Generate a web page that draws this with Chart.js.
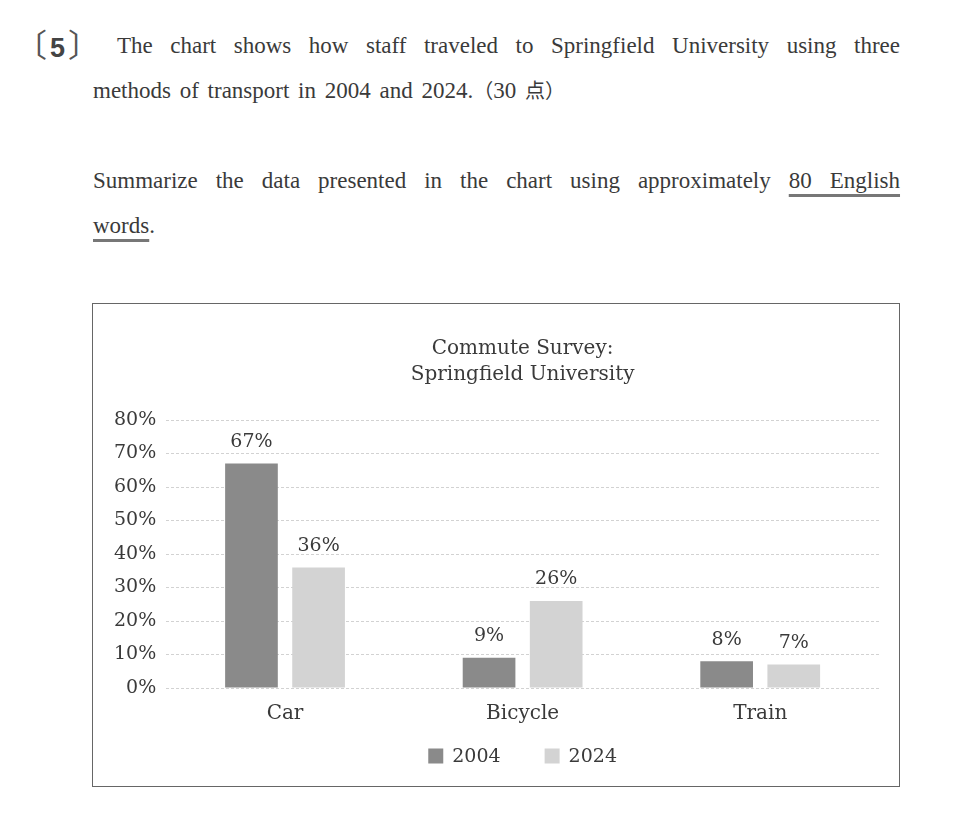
<!DOCTYPE html>
<html>
<head>
<meta charset="utf-8">
<script src="https://cdn.jsdelivr.net/npm/chart.js@4.4.0/dist/chart.umd.min.js"></script>
<style>
body { margin: 0; background: #fff; width: 964px; height: 838px; position: relative; color: #3a3a3a; }
.num { position: absolute; left: 15px; top: 23px; font-family: "Noto Sans CJK JP", sans-serif; font-size: 32px; line-height: 40px; color: #555; }
.num b { font-family: "Liberation Sans", sans-serif; font-size: 27px; color: #444; padding: 0 3px; }
.line { position: absolute; font-family: "Liberation Serif", serif; font-size: 23px; line-height: 44px; white-space: nowrap; word-spacing: 3px; }
.full { text-align: justify; text-align-last: justify; white-space: normal; }
.l1 { left: 117px; width: 783px; top: 24px; }
.l2 { left: 93px; top: 68px; }
.l3 { left: 93px; width: 807px; top: 159px; }
.l4 { left: 93px; top: 204px; }
.cjk { font-family: "Noto Sans CJK JP", sans-serif; font-size: 20px; }
.ul { text-decoration: underline; text-decoration-color: #777; text-decoration-thickness: 3px; text-underline-offset: 6px; }
.box { position: absolute; left: 92px; top: 303px; width: 806px; height: 482px; border: 1px solid #666; }
canvas { display: block; }
</style>
</head>
<body>
<div class="num">〔<b>5</b>〕</div>
<div class="line full l1">The chart shows how staff traveled to Springfield University using three</div>
<div class="line l2">methods of transport in 2004 and 2024.<span class="cjk">（</span>30 <span class="cjk">点）</span></div>
<div class="line full l3">Summarize the data presented in the chart using approximately <span class="ul">80 English</span></div>
<div class="line l4"><span class="ul">words</span>.</div>
<div class="box"><canvas id="commute-chart" width="806" height="482"></canvas></div>
<script>

// data

const categories = ['Car', 'Bicycle', 'Train'];
const seriesYears = ['2004', '2024'];
const values2004 = [67, 9, 8];
const values2024 = [36, 26, 7];
const chartTitle = ['Commute Survey:', 'Springfield University'];

// value labels above bars

const valueLabels = {
    id: 'valueLabels',
    afterDatasetsDraw(chart) {
        const ctx = chart.ctx;
        ctx.save();
        ctx.font = '19px "DejaVu Serif", serif';
        ctx.fillStyle = '#3a3a3a';
        ctx.textAlign = 'center';
        ctx.textBaseline = 'bottom';
        chart.data.datasets.forEach((ds, i) => {
            chart.getDatasetMeta(i).data.forEach((bar, j) => {
                ctx.fillText(ds.data[j] + '%', bar.x, bar.y - 12);
            });
        });
        ctx.restore();
    }
};

// legend under the category labels, centred on the plot area

const bottomLegend = {
    id: 'bottomLegend',
    afterDraw(chart) {
        const ctx = chart.ctx;
        const area = chart.chartArea;
        const box = 15, gap = 9, spacing = 44;
        ctx.save();
        ctx.font = '19px "DejaVu Serif", serif';
        ctx.textBaseline = 'middle';
        const items = chart.data.datasets.map(ds => ({
            label: ds.label,
            color: ds.backgroundColor,
            w: box + gap + ctx.measureText(ds.label).width
        }));
        let total = items.reduce((s, it) => s + it.w, 0) + spacing * (items.length - 1);
        let x = (area.left + area.right) / 2 - total / 2;
        const y = area.bottom + 68;
        items.forEach(it => {
            ctx.fillStyle = it.color;
            ctx.fillRect(x, y - box / 2, box, box);
            ctx.fillStyle = '#3a3a3a';
            ctx.fillText(it.label, x + box + gap, y + 1);
            x += it.w + spacing;
        });
        ctx.restore();
    }
};

Chart.defaults.font.family = '"DejaVu Serif", serif';
Chart.defaults.color = '#3a3a3a';

const commuteCanvas = document.getElementById('commute-chart');

let commuteChart = new Chart(commuteCanvas, {
    type: 'bar',
    data: {
        labels: categories,
        datasets: [{
            label: seriesYears[0],
            data: values2004,
            backgroundColor: '#8a8a8a',
            borderWidth: 0,
            categoryPercentage: 0.565,
            barPercentage: 0.785
        }, {
            label: seriesYears[1],
            data: values2024,
            backgroundColor: '#d3d3d3',
            borderWidth: 0,
            categoryPercentage: 0.565,
            barPercentage: 0.785
        }]
    },
    options: {
        responsive: false,
        animation: { duration: 0 },
        layout: {
            padding: { top: 32, left: 11, right: 20, bottom: 54 }
        },
        scales: {
            x: {
                grid: { display: false },
                border: { display: false },
                ticks: { font: { size: 20 }, padding: 6 }
            },
            y: {
                min: 0,
                max: 80,
                grid: { color: '#d2d2d2', tickLength: 0 },
                border: { display: false, dash: [3, 2] },
                ticks: {
                    stepSize: 10,
                    padding: 10,
                    font: { size: 19 },
                    callback: (v) => v + '%'
                }
            }
        },
        plugins: {
            title: {
                display: true,
                text: chartTitle,
                fullSize: false,
                font: { size: 20, weight: 'normal', lineHeight: 1.3 },
                color: '#3a3a3a',
                padding: { top: 0, bottom: 32 }
            },
            legend: { display: false },
            tooltip: { enabled: false }
        }
    },
    plugins: [valueLabels, bottomLegend]
});
</script>
</body>
</html>
